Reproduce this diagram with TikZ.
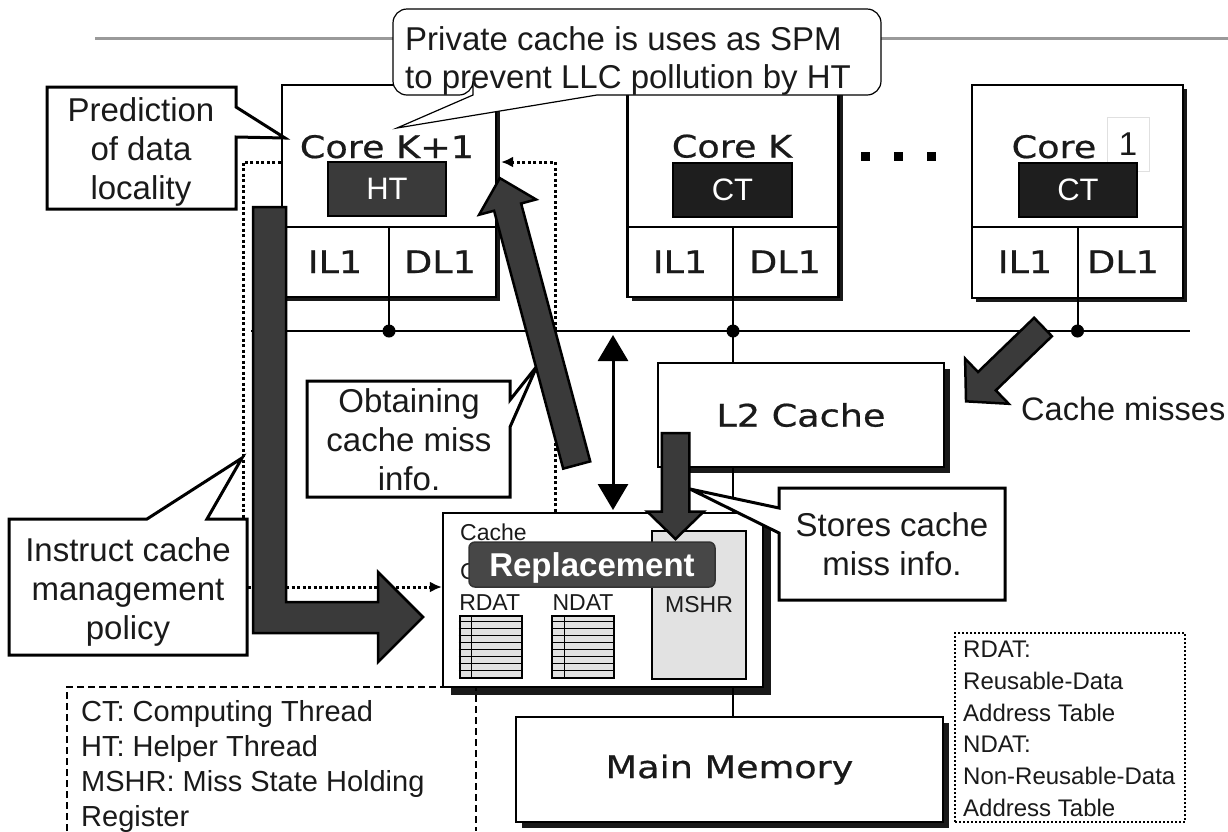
\documentclass[tikz,border=0pt]{standalone}
\usepackage{fontspec}
\setmainfont{Liberation Sans}
\newfontfamily\gothic[FakeStretch=1.18, FakeBold=0.6]{DejaVu Sans}
\usepackage{xcolor}
\usepackage{tikz}
\usetikzlibrary{positioning, arrows.meta, calc, shadows}
\definecolor{cache-dark}{HTML}{3A3A3A}
\definecolor{cache-black}{HTML}{1E1E1E}
\definecolor{cache-gray}{HTML}{9A9A9A}
\definecolor{cache-light}{HTML}{E2E2E2}
\definecolor{cache-text}{HTML}{1A1A1A}
\definecolor{cache-repl}{HTML}{474747}

% fat block arrow: tail, angle, length, shaft half width, head half width, head length
\newcommand{\fatarrow}[6]{%
  \begin{scope}[shift={(#1)}, rotate=#2]
    \draw[fatarr] (0,-#4) -- (#3-#6,-#4) -- (#3-#6,-#5) -- (#3,0)
      -- (#3-#6,#5) -- (#3-#6,#4) -- (0,#4) -- cycle;
  \end{scope}}

\begin{document}
\begin{tikzpicture}[x=1pt, y=-1pt,
    corebox/.style={draw, line width=2.2pt, fill=white, inner sep=0pt,
                    drop shadow={shadow xshift=#1, shadow yshift=-#1, fill=black, opacity=0.9}},
    corebox/.default=4pt,
    threadbox/.style={draw=black, line width=2pt, text=white, inner sep=0pt,
                      minimum height=54pt, font=\fontsize{31}{31}\selectfont},
    glabel/.style={font=\gothic\fontsize{31}{37}\selectfont, text=cache-text, inner sep=0pt},
    small/.style={font=\fontsize{23}{23}\selectfont, text=cache-text, inner sep=0pt},
    tablebox/.style={draw, line width=2pt, fill=cache-light, minimum width=62pt,
                     minimum height=62pt, inner sep=0pt},
    callout/.style={draw, line width=3pt, fill=white, line join=miter},
    calltext/.style={font=\fontsize{33}{39}\selectfont, align=center, inner sep=0pt, text=cache-text},
    fatarr/.style={draw=black, line width=2.5pt, fill=cache-dark, line join=miter},
    dotarr/.style={line width=3pt, dash pattern=on 3pt off 2.5pt, -{Latex[length=12pt, width=11pt]}},
    dblarr/.style={line width=3pt, {Triangle[width=30pt, length=26pt]}-{Triangle[width=30pt, length=26pt]}},
]
    \path[use as bounding box, fill=white] (0,0) rectangle (1228,831);

    % title rule
    \draw[cache-gray, line width=3pt] (95,38) -- (1228,38);

    % bus
    \coordinate (busW) at (251,331);
    \coordinate (busE) at (1190,331);
    \draw[line width=2.5pt] (busW) -- (busE);

    % Cores
    \node[corebox, minimum width=214pt, minimum height=212pt] (coreA) at (389,191) {};
    \node[corebox, minimum width=211pt, minimum height=212pt] (coreB) at (733,191) {};
    \node[corebox, minimum width=211pt, minimum height=213pt] (coreC) at (1077.5,191.5) {};
    \foreach \core in {coreA, coreB, coreC} {
        \draw[line width=2pt] (\core.west |- 0,227) -- (\core.east |- 0,227);
        \draw[line width=2pt] (\core.center |- 0,227) -- (\core.center |- busW);
        \fill (\core.center |- busW) circle (6.5pt);
    }

    \node[glabel, anchor=base] (titleA) at (387,158) {Core K+1};
    \node[glabel, anchor=base] (titleB) at (732,157.5) {Core K};
    \node[glabel, anchor=base] (titleC) at (1054,158) {Core};
    \node[draw=black!12, line width=1pt, minimum width=42pt, minimum height=54pt, inner sep=0pt,
          font=\fontsize{33}{33}\selectfont, text=cache-text] (idxC) at (1128,144) {1};

    \node[threadbox, fill=cache-dark, minimum width=118pt] (htA) at (387,189) {HT};
    \node[threadbox, fill=cache-black, minimum width=119pt] (ctB) at (732.5,189.5) {CT};
    \node[threadbox, fill=cache-black, minimum width=118pt] (ctC) at (1078,189.5) {CT};

    \foreach \x/\t in {335/IL1, 440/DL1, 680/IL1, 785/DL1, 1025/IL1, 1123/DL1}
        \node[glabel, anchor=base] (l1-\x) at (\x,273) {\t};

    \foreach \x in {865,898,931}
        \fill (\x-4.5,151.5) rectangle (\x+4.5,160.5);

    % Legend (left)
    \draw[line width=2pt, dash pattern=on 7pt off 4pt] (67,831) -- (67,687) -- (476,687) -- (476,831);
    \node[anchor=north west, align=left, inner sep=0pt, font=\fontsize{29}{35}\selectfont,
          text=cache-text] (abbrL) at (81,700)
        {CT: Computing Thread\\HT: Helper Thread\\MSHR: Miss State Holding\\Register};

    % L2, controller, memory
    \node[corebox=6pt, glabel, minimum width=286pt, minimum height=104pt] (l2) at (801,415) {L2 Cache};
    \node[corebox=8pt, minimum width=320pt, minimum height=174pt] (ctrl) at (603,600) {};
    \node[corebox=6pt, glabel, minimum width=427pt, minimum height=105pt] (mem) at (729.5,769.5) {Main Memory};

    \coordinate (tapL2) at (733,331);
    \draw[line width=2pt] (tapL2) -- (tapL2 |- l2.north);
    \draw[line width=2pt] (tapL2 |- l2.south) -- (tapL2 |- ctrl.north);
    \draw[line width=2pt] (tapL2 |- ctrl.south) -- (tapL2 |- mem.north);

    % inside the controller
    \node[small, anchor=base west] (ctrlA) at (460,540.7) {Cache};
    \node[small, anchor=base west] (ctrlB) at (460,579) {C};
    \node[draw, line width=2pt, fill=cache-light, minimum width=94pt, minimum height=148pt, small]
        (mshr) at (699,605) {MSHR};
    \node[tablebox] (rdat) at (490.5,647) {};
    \node[tablebox] (ndat) at (583,647) {};
    \foreach \tbl in {rdat, ndat} {
        \foreach \i in {1,...,8}
            \draw[line width=0.9pt] ($(\tbl.north west)+(0,\i*6.9)$) -- ($(\tbl.north east)+(0,\i*6.9)$);
        \draw[line width=0.9pt] ($(\tbl.north west)+(13,0)$) -- ($(\tbl.south west)+(13,0)$);
    }
    \node[small, anchor=base] (rdatlbl) at (489.7,610) {RDAT};
    \node[small, anchor=base] (ndatlbl) at (583,610) {NDAT};
    \node[draw=black!80, line width=1.5pt, fill=cache-repl, rounded corners=6pt, minimum width=246pt,
          minimum height=45pt, inner sep=0pt, text=white, text depth=0pt,
          font=\bfseries\fontsize{33}{33}\selectfont] (repl) at (592,564.5) {Replacement};

    % Legend (right)
    \node[draw, line width=2pt, dash pattern=on 2pt off 2pt, minimum width=230pt, minimum height=189pt,
          inner sep=0pt] (abbrR) at (1070,727.5) {};
    \node[anchor=north west, align=left, inner sep=0pt, font=\fontsize{24}{31.7}\selectfont,
          text=cache-text] (abbrRtext) at (963,641)
        {RDAT:\\Reusable-Data\\Address Table\\NDAT:\\Non-Reusable-Data\\Address Table};

    % dotted control loops
    \coordinate (loopL) at (243,162);
    \coordinate (loopR) at (555,162);
    \draw[dotarr] (coreA.west |- loopL) -- (loopL) -- (loopL |- 0,587) -- ([yshift=13pt]ctrl.west);
    \draw[dotarr] (loopR |- ctrl.north) -- (loopR) -- ($(coreA.east |- loopR)+(4,0)$);

    % Callouts
    \draw[line width=1.2pt, fill=white] (473,95) -- (397,128) -- (597,95)
        {[rounded corners=14pt] -- (881,95) -- (881,9) -- (393,9) -- (393,95) -- (473,95)} -- cycle;
    \node[font=\fontsize{33}{38}\selectfont, align=left, anchor=north west, inner sep=0pt,
          text=cache-text] (spm) at (405,26) {Private cache is uses as SPM\\to prevent LLC pollution by HT};

    \draw[callout] (236,107) -- (285,138) -- (236,137) -- (236,209) -- (47,209) -- (47,87) -- (236,87) -- cycle;
    \node[calltext, anchor=north] (pred) at (141,97) {Prediction\\of data\\locality};

    \draw[callout] (510,400) -- (537,366) -- (510,427) -- (510,497) -- (307,497) -- (307,381) -- (510,381) -- cycle;
    \node[calltext, anchor=north] (obtain) at (409,388) {Obtaining\\cache miss\\info.};

    \draw[callout] (207,519) -- (247,519) -- (247,655) -- (9,655) -- (9,519) -- (147,519) -- (242,458) -- cycle;
    \node[calltext, anchor=north] (instr) at (128,537) {Instruct cache\\management\\policy};

    \draw[callout] (779,533) -- (779,600) -- (1005,600) -- (1005,488) -- (779,488) -- (779,508) -- (690,489) -- cycle;
    \node[calltext, anchor=north] (stores) at (892,512) {Stores cache\\miss info.};

    \node[anchor=base west, inner sep=0pt, font=\fontsize{32.5}{32.5}\selectfont, text=cache-text]
        (misses) at (1021,420) {Cache misses};

    % Fat arrows
    \draw[fatarr] (253,207) -- (286,207) -- (286,602) -- (378,602) -- (378,572) -- (423,617)
        -- (378,662) -- (378,633) -- (253,633) -- cycle;
    \fatarrow{576.7,465}{105}{297}{14}{29.5}{30}
    \fatarrow{675.5,433}{-90}{106}{13.75}{28.3}{27.5}
    \fatarrow{1043,327}{-136}{107}{12.8}{31.4}{29}

    \coordinate (dblTop) at (613,335);
    \coordinate (dblBot) at (613,510);
    \draw[dblarr] (dblTop) -- (dblBot);
\end{tikzpicture}
\end{document}
